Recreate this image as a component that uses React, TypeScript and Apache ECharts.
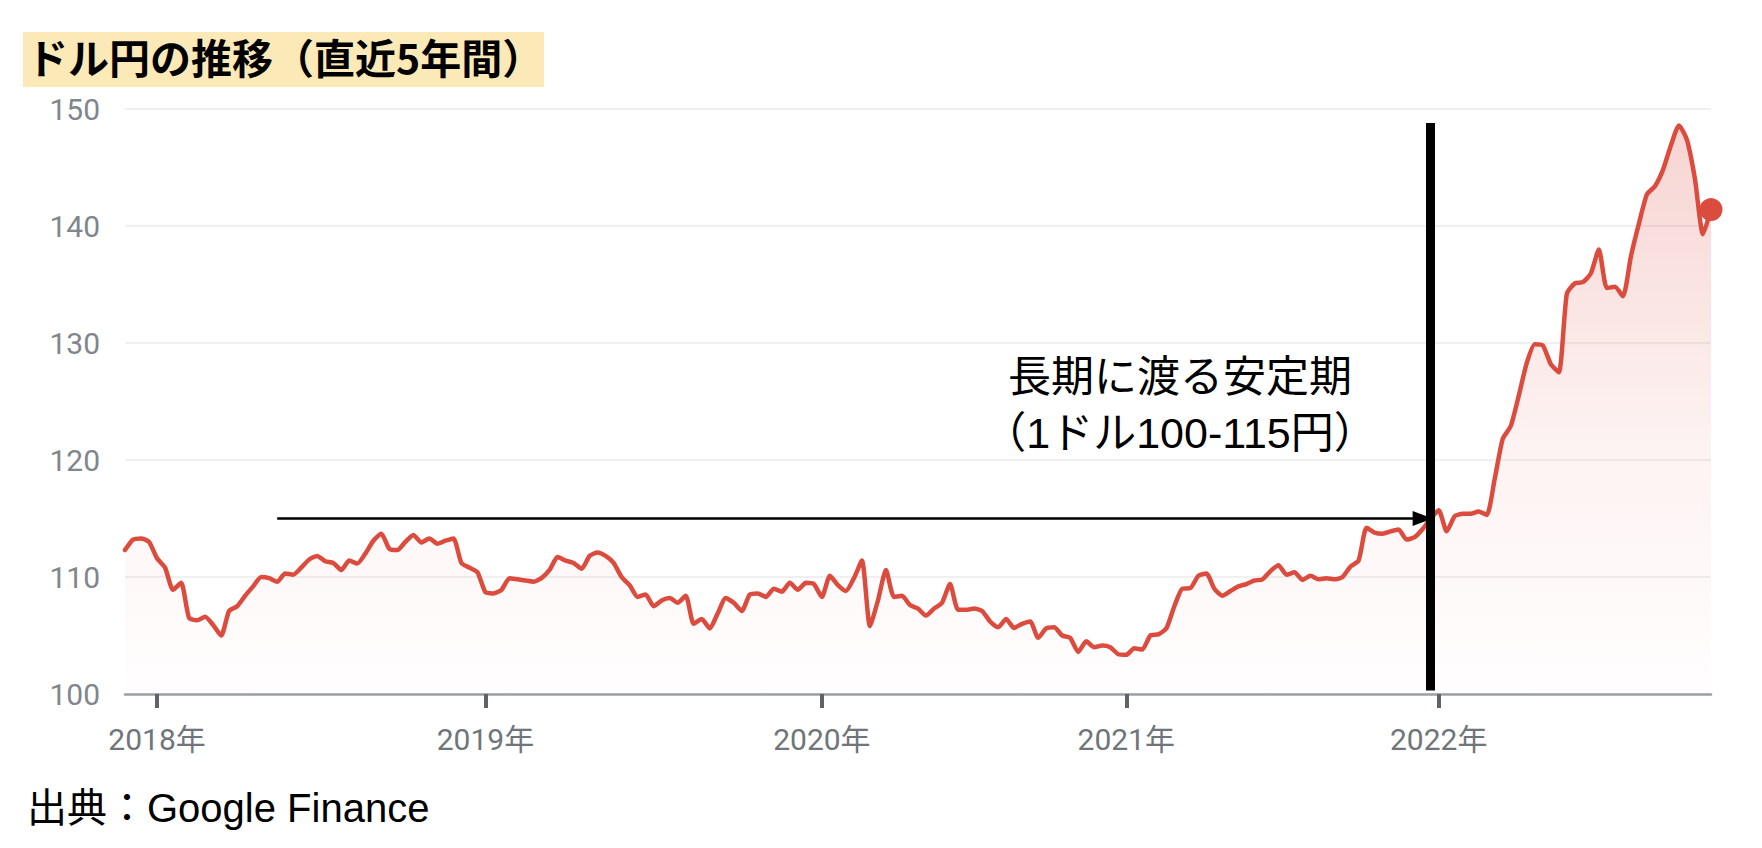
import React, { useEffect, useRef } from 'react';
import * as echarts from 'echarts';

const COLORS = {
  LINE: '#db4c3e',
  AXIS_TEXT: '#70757a',
  AXIS_LINE: '#9aa0a6',
  TICK: '#5f6368',
  SPLIT_LINE: '#f0f0f0',
  TITLE_BG: '#fbe9b7',
};

// weekly-ish USD/JPY closes (Nov 2017 - Nov 2022)
const usdJpy = [
  112.3, 113.2, 113.3, 113.0, 111.6, 110.8, 108.9, 109.5, 106.5, 106.3,
  106.6, 105.9, 105.0, 107.1, 107.5, 108.4, 109.2, 110.0, 109.9, 109.6,
  110.3, 110.2, 110.8, 111.5, 111.8, 111.35, 111.2, 110.6, 111.4, 111.15,
  112.0, 113.1, 113.7, 112.4, 112.3, 113.0, 113.6, 112.95, 113.3, 112.85,
  113.1, 113.3, 111.2, 110.8, 110.4, 108.7, 108.6, 108.9, 109.9, 109.8,
  109.7, 109.6, 109.9, 110.6, 111.7, 111.4, 111.2, 110.7, 111.8, 112.1,
  111.8, 111.2, 110.0, 109.3, 108.3, 108.5, 107.5, 108.0, 108.2, 107.8,
  108.4, 106.0, 106.4, 105.6, 106.9, 108.2, 107.8, 107.1, 108.5, 108.6,
  108.3, 109.0, 108.75, 109.5, 108.9, 109.5, 109.4, 108.3, 110.1, 109.3,
  108.8, 109.9, 111.4, 105.8, 108.0, 110.6, 108.3, 108.4, 107.6, 107.3,
  106.7, 107.3, 107.8, 109.4, 107.2, 107.2, 107.3, 107.1, 106.2, 105.7,
  106.4, 105.65, 106.0, 106.2, 104.8, 105.6, 105.7, 105.0, 104.8, 103.6,
  104.5, 104.0, 104.15, 104.0, 103.4, 103.35, 103.9, 103.8, 105.0, 105.1,
  105.6, 107.5, 109.0, 109.05, 110.1, 110.3, 109.0, 108.4, 108.8, 109.2,
  109.4, 109.7, 109.8, 110.5, 111.0, 110.2, 110.4, 109.75, 110.1, 109.8,
  109.9, 109.8, 110.0, 110.9, 111.4, 114.2, 113.8, 113.7, 113.9, 114.05,
  113.2, 113.4, 114.1, 115.0, 115.7, 113.9, 115.2, 115.4, 115.4, 115.6,
  115.3, 118.4, 121.8, 122.9, 125.5, 128.3, 129.9, 129.8, 128.2, 127.5,
  134.2, 135.1, 135.2, 135.95, 138.0, 134.7, 134.8, 134.0, 137.4, 140.2,
  142.7, 143.4, 144.8, 146.9, 148.6, 147.35, 144.0, 139.3, 141.4,
];

// index of the week where each year starts, and its label
const yearTickIndex = [4, 45, 87, 125, 164];
const yearTickLabel = ['2018年', '2019年', '2020年', '2021年', '2022年'];

const categories = usdJpy.map((_, i) => {
  const k = yearTickIndex.indexOf(i);
  return k >= 0 ? yearTickLabel[k] : '';
});

// annotation: stable range arrow and the start of 2022 marker
const arrowStart = [19, 115.0];
const arrowEnd = [162, 115.0];
const markerTop = [163, 148.8];
const markerBottom = [163, 100.3];

const TITLE = 'ドル円の推移（直近5年間）';
const NOTE = '長期に渡る安定期\n（1ドル100-115円）';
const SOURCE = '出典：Google Finance';

const isTick = (i: number) => yearTickIndex.includes(i);

const App: React.FC = () => {
  const divEL = useRef<HTMLDivElement>(null);

  useEffect(() => {
    document.body.style.margin = '0';
    const instance = echarts.init(divEL.current as any, null, { renderer: 'svg' });
    const last = usdJpy.length - 1;

    const option: echarts.EChartsOption = {
      animation: false,
      backgroundColor: '#fff',
      grid: {
        left: 125,
        right: 51,
        top: 109,
        bottom: 154,
      },
      xAxis: {
        type: 'category',
        data: categories,
        boundaryGap: false,
        axisLine: {
          lineStyle: { color: COLORS.AXIS_LINE, width: 2.5 },
        },
        axisTick: {
          interval: (i: number) => isTick(i),
          length: 14,
          lineStyle: { color: COLORS.TICK, width: 4 },
        },
        axisLabel: {
          interval: (i: number) => isTick(i),
          color: COLORS.AXIS_TEXT,
          fontSize: 30,
          fontFamily: 'Roboto, "Noto Sans CJK JP"',
          margin: 30,
        },
        splitLine: { show: false },
      },
      yAxis: {
        type: 'value',
        min: 100,
        max: 150,
        interval: 10,
        axisLine: { show: false },
        axisTick: { show: false },
        axisLabel: {
          color: '#80868b',
          fontSize: 30,
          fontFamily: 'Roboto',
          margin: 25,
        },
        splitLine: {
          lineStyle: { color: COLORS.SPLIT_LINE, width: 2 },
        },
      },
      series: [
        {
          type: 'line',
          data: usdJpy,
          smooth: 0.2,
          symbol: 'circle',
          showSymbol: true,
          showAllSymbol: true,
          symbolSize: (_v: any, params: any) => (params.dataIndex === last ? 23 : 0),
          itemStyle: { color: COLORS.LINE },
          lineStyle: { color: COLORS.LINE, width: 4.5, join: 'round', cap: 'round' },
          areaStyle: {
            color: new echarts.graphic.LinearGradient(0, 0, 0, 1, [
              { offset: 0, color: 'rgba(219,76,62,0.34)' },
              { offset: 0.55, color: 'rgba(219,76,62,0.10)' },
              { offset: 1, color: 'rgba(219,76,62,0.01)' },
            ]),
          },
          markLine: {
            silent: true,
            label: { show: false },
            data: [
              [
                {
                  coord: arrowStart,
                  symbol: 'none',
                  lineStyle: { color: '#000', width: 2.5, type: 'solid' },
                },
                { coord: arrowEnd, symbol: 'triangle', symbolSize: [15, 20] },
              ],
              [
                {
                  coord: markerTop,
                  symbol: 'none',
                  lineStyle: { color: '#000', width: 9, type: 'solid' },
                },
                { coord: markerBottom, symbol: 'none' },
              ],
            ] as any,
          },
        },
      ],
      graphic: [
        {
          type: 'rect',
          left: 23,
          top: 32,
          shape: { width: 521, height: 55 },
          style: { fill: COLORS.TITLE_BG },
          z: 10,
        },
        {
          type: 'text',
          x: 27,
          y: 56,
          style: {
            text: TITLE,
            fill: '#000',
            font: 'bold 41px "Noto Sans CJK JP"',
            verticalAlign: 'middle',
          },
          z: 11,
        },
        {
          type: 'text',
          x: 1180,
          y: 405,
          style: {
            text: NOTE,
            fill: '#000',
            font: '43px "Liberation Sans", "Noto Sans CJK JP"',
            lineHeight: 56,
            align: 'center',
            verticalAlign: 'middle',
          },
          z: 11,
        },
        {
          type: 'text',
          x: 27,
          y: 808,
          style: {
            text: SOURCE,
            fill: '#000',
            font: '40px "Liberation Sans", "Noto Sans CJK JP"',
            verticalAlign: 'middle',
          },
          z: 11,
        },
      ],
    };

    instance.setOption(option);

    return () => {
      instance.dispose();
    };
  }, []);

  return (
    <div
      ref={divEL}
      style={{ position: 'fixed', left: 0, top: 0, width: 1762, height: 848 }}
    ></div>
  );
};

export default App;
